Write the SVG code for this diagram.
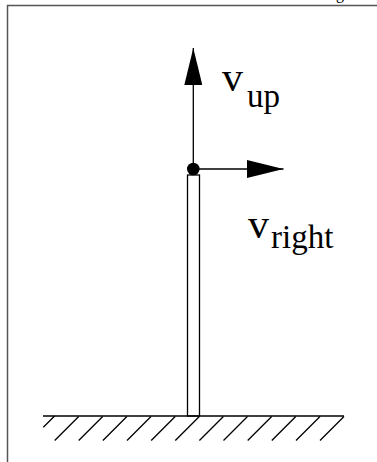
<svg xmlns="http://www.w3.org/2000/svg" width="377" height="462" viewBox="0 0 377 462">
<style>
.ln{stroke:#000;stroke-width:1.3;fill:none}
.frame{stroke:#555;stroke-width:1.5;fill:none}
.lab{font-family:"Liberation Serif","Times New Roman",serif;fill:#000}
.big{font-size:42px}
.sub{font-size:33px}
</style>
<defs>
<marker id="ah" viewBox="0 0 37 18" refX="37" refY="9" markerWidth="37" markerHeight="18" markerUnits="userSpaceOnUse" orient="auto">
<path d="M0,0 L37,9 L0,18 Z" fill="#000"/>
</marker>
</defs>
<g id="frame">
<path class="frame" d="M7.5,462 V5.5 H377"/>
<text class="lab" x="336" y="-1" font-size="16">g</text>
</g>
<g id="ground">
<line class="ln" x1="43" y1="416" x2="344" y2="416" stroke-width="2"/>
<path class="ln" d="M43.3,427.3 L54.6,416 M54.7,440.5 L78.7,416.5 M78.7,440.5 L102.7,416.5 M102.9,440.5 L126.9,416.5 M127,440.5 L151,416.5 M151.2,440.5 L175.2,416.5 M175.3,440.5 L199.3,416.5 M199.4,440.5 L223.4,416.5 M223.5,440.5 L247.5,416.5 M247.7,440.5 L271.7,416.5 M271.8,440.5 L295.8,416.5 M296,440.5 L320,416.5 M320,440.5 L344,416.5"/>
</g>
<g id="pole">
<rect class="ln" x="187.5" y="175" width="12" height="241" fill="#fff"/>
</g>
<g id="connectors">
<line class="ln" x1="193.3" y1="169" x2="193.3" y2="48" marker-end="url(#ah)"/>
<line class="ln" x1="193.3" y1="169" x2="283.5" y2="169" marker-end="url(#ah)"/>
</g>
<g id="point">
<circle cx="193.3" cy="169" r="6.3" fill="#000"/>
</g>
<g id="v_up">
<text class="lab" x="222" y="91"><tspan class="big">v</tspan><tspan class="sub" dx="4" dy="16">up</tspan></text>
</g>
<g id="v_right">
<text class="lab" x="248" y="238"><tspan class="big">v</tspan><tspan class="sub" dx="2" dy="10">right</tspan></text>
</g>
</svg>
